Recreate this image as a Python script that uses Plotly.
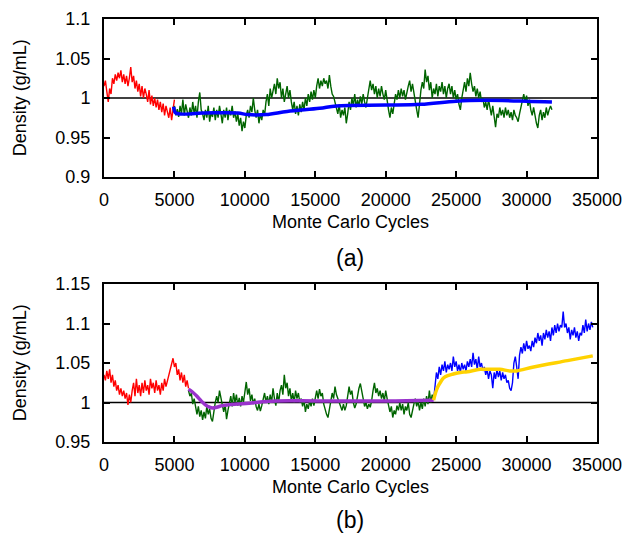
import numpy as np
import plotly.graph_objects as go

STEP = 100

# ---------------- (a) ----------------
a_red_start = 0
a_red = [1.015, 1.022, 1.008, 0.995, 1.012, 1.005, 1.025, 1.018, 1.030, 1.022,
         1.032, 1.025, 1.035, 1.020, 1.030, 1.018, 1.028, 1.015, 1.025, 1.039,
         1.020, 1.028, 1.012, 1.022, 1.008, 1.018, 1.002, 1.015, 1.000, 1.012,
         1.005, 0.995, 1.010, 0.992, 1.003, 0.990, 1.000, 0.988, 0.998, 0.985,
         0.995, 0.982, 0.993, 0.978, 0.990, 0.980, 0.975, 0.988, 0.972, 0.985, 0.998]

a_green_start = 5000
a_green = [0.990, 0.978, 0.986, 0.976, 0.990, 0.980, 0.998, 0.978, 0.992, 0.982,
           0.975, 0.988, 0.978, 0.995, 0.980, 0.990, 0.975, 0.995, 1.007, 0.985,
           0.980, 0.972, 0.985, 0.975, 0.990, 0.970, 0.982, 0.976, 0.988, 0.972,
           0.985, 0.975, 0.990, 0.980, 0.968, 0.985, 0.975, 0.988, 0.972, 0.985,
           0.978, 0.990, 0.975, 0.983, 0.970, 0.980, 0.965, 0.975, 0.958, 0.970,
           0.962, 0.978, 0.985, 0.975, 0.990, 0.982, 1.000, 0.985, 0.975, 0.985,
           0.968, 0.980, 0.972, 0.985, 0.978, 0.995, 1.005, 0.990, 1.012, 1.000,
           1.010, 1.018, 1.005, 1.025, 1.012, 1.020, 1.000, 1.012, 0.995, 1.008,
           1.015, 1.000, 1.010, 0.995, 0.985, 0.995, 0.980, 0.990, 0.978, 0.992,
           0.982, 0.995, 0.985, 1.000, 0.990, 1.005, 0.995, 1.008, 0.998, 1.010,
           1.000, 1.015, 1.025, 1.012, 1.022, 1.015, 1.025, 1.018, 1.022, 1.012,
           1.029, 1.015, 1.005, 1.002, 0.995, 0.990, 0.980, 0.992, 0.975, 0.985,
           0.978, 0.988, 0.968, 0.980, 0.995, 0.985, 1.000, 0.990, 1.005, 0.988,
           0.998, 0.990, 1.002, 0.992, 1.005, 0.995, 0.988, 1.000, 1.010, 1.022,
           1.010, 1.018, 1.005, 1.015, 1.000, 1.012, 1.002, 1.015, 1.005, 0.998,
           1.010, 0.995, 0.985, 0.975, 0.988, 0.980, 0.995, 1.005, 0.998, 1.010,
           1.000, 1.012, 1.002, 1.010, 0.998, 1.008, 1.015, 1.022, 1.008, 1.018,
           1.005, 0.995, 0.985, 0.975, 0.995, 1.010, 1.020, 1.012, 1.036, 1.020,
           1.028, 1.010, 1.020, 1.000, 1.012, 1.005, 1.018, 1.002, 1.015, 1.008,
           1.020, 1.005, 1.015, 1.000, 1.012, 1.018, 1.005, 1.015, 1.000, 1.010,
           0.998, 1.005, 0.992, 0.985, 1.000, 1.010, 1.020, 1.008, 1.025, 1.015,
           1.032, 1.018, 1.008, 1.015, 1.002, 1.012, 1.000, 1.008, 0.995, 1.000,
           0.988, 0.995, 0.985, 0.998, 0.988, 0.978, 0.990, 0.975, 0.963, 0.980,
           0.975, 0.988, 0.978, 0.985, 0.975, 0.988, 0.978, 0.985, 0.975, 0.982,
           0.972, 0.985, 0.978, 0.975, 0.970, 0.980, 0.990, 0.998, 1.005, 0.995,
           1.003, 0.990, 0.998, 0.985, 0.978, 0.988, 0.975, 0.968, 0.962, 0.978,
           0.985, 0.972, 0.982, 0.975, 0.988, 0.978, 0.985, 0.990, 0.985]

a_fit_x = [4950, 5100, 7000, 9500, 10200, 11500, 13000, 15300, 16500, 20000, 22500, 25000, 27000, 30000, 31800]
a_fit_y = [0.989, 0.981, 0.981, 0.981, 0.979, 0.979, 0.983, 0.987, 0.990, 0.991, 0.992, 0.996, 0.997, 0.996, 0.995]

# ---------------- (b) ----------------
b_red_start = 0
b_red = [1.035, 1.028, 1.040, 1.030, 1.042, 1.025, 1.035, 1.020, 1.028, 1.015,
         1.022, 1.010, 1.018, 1.008, 1.015, 1.005, 1.012, 0.997, 1.010, 1.000,
         1.015, 1.025, 1.008, 1.030, 1.012, 1.022, 1.008, 1.025, 1.012, 1.028,
         1.015, 1.022, 1.010, 1.030, 1.018, 1.025, 1.012, 1.028, 1.015, 1.022,
         1.010, 1.025, 1.015, 1.030, 1.020, 1.028, 1.035, 1.042, 1.050, 1.056,
         1.045, 1.050, 1.035, 1.042, 1.028, 1.038, 1.025, 1.035, 1.020, 1.028, 1.018]

b_green_start = 6000
b_green = [1.015, 1.008, 1.012, 0.998, 1.005, 0.992, 0.985, 0.995, 0.982, 0.990,
           0.978, 0.988, 0.980, 0.995, 0.985, 0.992, 0.980, 0.976, 0.990, 1.000,
           1.008, 1.000, 1.015, 1.005, 0.995, 0.988, 0.998, 0.979, 0.990, 0.998,
           1.008, 0.995, 1.012, 1.000, 1.010, 0.996, 1.006, 0.995, 1.008, 1.000,
           1.015, 1.026, 1.010, 1.018, 1.002, 1.010, 0.998, 1.005, 0.995, 0.990,
           0.998, 0.989, 0.996, 1.005, 1.012, 1.000, 1.008, 0.998, 1.010, 1.000,
           1.018, 1.005, 0.996, 1.012, 1.000, 1.015, 1.022, 1.010, 1.035, 1.018,
           1.025, 1.008, 1.018, 1.002, 1.012, 1.000, 1.015, 1.005, 1.012, 1.000,
           1.005, 0.995, 1.003, 0.988, 0.998, 0.992, 1.002, 0.995, 1.005, 0.996,
           1.008, 1.015, 1.005, 1.017, 1.008, 1.012, 0.998, 0.990, 0.985, 0.981,
           0.992, 1.000, 1.012, 1.005, 1.020, 1.010, 1.006, 1.000, 0.995, 0.990,
           0.998, 0.990, 0.996, 1.008, 1.020, 1.010, 1.015, 1.000, 0.993, 0.998,
           1.010, 1.018, 1.024, 1.012, 1.005, 0.995, 1.000, 0.992, 0.998, 0.994,
           1.002, 1.015, 1.025, 1.012, 1.018, 1.008, 1.015, 1.005, 1.012, 1.002,
           1.015, 1.005, 0.995, 0.988, 0.995, 0.981, 0.990, 0.985, 0.996, 0.990,
           1.000, 0.990, 0.998, 0.985, 0.995, 0.990, 1.000, 0.985, 0.981, 0.992,
           0.998, 1.005, 0.995, 1.002, 0.990, 1.000, 0.992, 1.005, 0.995, 1.008,
           0.998, 1.015, 1.000, 1.010, 1.003]

b_blue_start = 23400
b_blue = [1.003, 1.025, 1.038, 1.030, 1.045, 1.035, 1.048, 1.040, 1.052, 1.038,
          1.048, 1.042, 1.050, 1.040, 1.058, 1.045, 1.052, 1.040, 1.048, 1.038,
          1.050, 1.042, 1.048, 1.040, 1.052, 1.045, 1.055, 1.045, 1.063, 1.048,
          1.055, 1.042, 1.058, 1.045, 1.050, 1.040, 1.045, 1.035, 1.042, 1.030,
          1.040, 1.035, 1.018, 1.038, 1.030, 1.042, 1.032, 1.040, 1.028, 1.038,
          1.030, 1.035, 1.025, 1.028, 1.018, 1.015, 1.025, 1.050, 1.058, 1.045,
          1.030, 1.060, 1.070, 1.062, 1.075, 1.065, 1.078, 1.068, 1.072, 1.065,
          1.078, 1.070, 1.082, 1.075, 1.088, 1.078, 1.085, 1.072, 1.088, 1.080,
          1.092, 1.082, 1.090, 1.078, 1.095, 1.085, 1.098, 1.088, 1.100, 1.090,
          1.098, 1.095, 1.115, 1.095, 1.100, 1.088, 1.095, 1.080, 1.092, 1.085,
          1.095, 1.082, 1.090, 1.078, 1.088, 1.085, 1.098, 1.088, 1.105, 1.090,
          1.100, 1.092, 1.102, 1.095]

b_purple_x = [6000, 6300, 6600, 6900, 7200, 7500, 7700, 8000, 8400, 8800, 9500, 10300, 11300, 12300, 15100, 20000, 23400]
b_purple_y = [1.017, 1.013, 1.008, 1.002, 0.997, 0.994, 0.993, 0.994, 0.996, 0.997, 0.998, 0.999, 1.001, 1.002, 1.002, 1.002, 1.003]

b_yellow_x = [23400, 23550, 23700, 23900, 24100, 24400, 24800, 25300, 25800, 26700, 27400, 28100, 28800, 29300, 30500, 32900, 34700]
b_yellow_y = [1.003, 1.013, 1.020, 1.026, 1.031, 1.034, 1.036, 1.038, 1.039, 1.042, 1.042, 1.042, 1.040, 1.040, 1.045, 1.053, 1.059]

x_ticks = [0, 5000, 10000, 15000, 20000, 25000, 30000, 35000]
x_labels = ["0", "5000", "10000", "15000", "20000", "25000", "30000", "35000"]
a_y_ticks = [0.9, 0.95, 1.0, 1.05, 1.1]
a_y_labels = ["0.9", "0.95", "1", "1.05", "1.1"]
b_y_ticks = [0.95, 1.0, 1.05, 1.1, 1.15]
b_y_labels = ["0.95", "1", "1.05", "1.1", "1.15"]


def xs(start, vals):
    return start + STEP * np.arange(len(vals))


RED = "rgb(255,0,0)"
GREEN = "rgb(0,100,0)"
BLUE = "rgb(0,0,255)"
PURPLE = "rgb(153,51,204)"
GOLD = "rgb(255,210,0)"
FONT = "Liberation Sans, Arial, sans-serif"

fig = go.Figure()
thin = 1.4
fig.add_trace(go.Scatter(x=xs(a_red_start, a_red), y=a_red, mode="lines",
                         line=dict(color=RED, width=thin), xaxis="x", yaxis="y"))
fig.add_trace(go.Scatter(x=xs(a_green_start, a_green), y=a_green, mode="lines",
                         line=dict(color=GREEN, width=thin), xaxis="x", yaxis="y"))
fig.add_trace(go.Scatter(x=a_fit_x, y=a_fit_y, mode="lines", line_shape="spline",
                         line=dict(color=BLUE, width=3.5), xaxis="x", yaxis="y"))

fig.add_trace(go.Scatter(x=xs(b_red_start, b_red), y=b_red, mode="lines",
                         line=dict(color=RED, width=thin), xaxis="x2", yaxis="y2"))
fig.add_trace(go.Scatter(x=xs(b_green_start, b_green), y=b_green, mode="lines",
                         line=dict(color=GREEN, width=thin), xaxis="x2", yaxis="y2"))
fig.add_trace(go.Scatter(x=xs(b_blue_start, b_blue), y=b_blue, mode="lines",
                         line=dict(color=BLUE, width=thin), xaxis="x2", yaxis="y2"))
fig.add_trace(go.Scatter(x=b_purple_x, y=b_purple_y, mode="lines", line_shape="spline",
                         line=dict(color=PURPLE, width=3.5), xaxis="x2", yaxis="y2"))
fig.add_trace(go.Scatter(x=b_yellow_x, y=b_yellow_y, mode="lines", line_shape="spline",
                         line=dict(color=GOLD, width=3.5), xaxis="x2", yaxis="y2"))

axis_common = dict(showline=True, linecolor="black", linewidth=2, mirror="ticks",
                   ticks="inside", ticklen=6, tickwidth=1.5, tickcolor="black",
                   showgrid=False, zeroline=False, automargin=False,
                   tickfont=dict(family=FONT, size=18, color="black"))

top_dom = [1 - 158 / 423, 1]
bot_dom = [0, 158 / 423]

fig.update_layout(
    width=626, height=534,
    margin=dict(l=104, r=29, t=19, b=92, autoexpand=False),
    paper_bgcolor="white", plot_bgcolor="white",
    showlegend=False,
    xaxis=dict(domain=[0, 1], anchor="y", range=[0, 35000], tickvals=x_ticks,
               ticktext=x_labels, ticklabelstandoff=5, **axis_common),
    yaxis=dict(domain=top_dom, anchor="x", range=[0.9, 1.1], tickvals=a_y_ticks,
               ticktext=a_y_labels, ticklabelstandoff=8, **axis_common),
    xaxis2=dict(domain=[0, 1], anchor="y2", range=[0, 35000], tickvals=x_ticks,
                ticktext=x_labels, ticklabelstandoff=5, **axis_common),
    yaxis2=dict(domain=bot_dom, anchor="x2", range=[0.95, 1.15], tickvals=b_y_ticks,
                ticktext=b_y_labels, ticklabelstandoff=8, **axis_common),
    shapes=[
        dict(type="line", xref="x domain", yref="y", x0=0, x1=1, y0=1.0, y1=1.0,
             line=dict(color="black", width=1.3), layer="below"),
        dict(type="line", xref="x2 domain", yref="y2", x0=0, x1=1, y0=1.0, y1=1.0,
             line=dict(color="black", width=1.3), layer="below"),
    ],
)

ann_font = dict(family=FONT, size=18, color="black")
anns = [
    dict(text="Density (g/mL)", x=-0.170, y=(442 - 98) / 423, textangle=-90),
    dict(text="Density (g/mL)", x=-0.170, y=(442 - 363) / 423, textangle=-90),
    dict(text="Monte Carlo Cycles", x=0.499, y=(442 - 222) / 423),
    dict(text="Monte Carlo Cycles", x=0.499, y=(442 - 487) / 423),
]
for a in anns:
    fig.add_annotation(xref="paper", yref="paper", showarrow=False,
                       xanchor="center", yanchor="middle", font=ann_font, **a)
for txt, yy in [("(a)", (442 - 258) / 423), ("(b)", (442 - 520) / 423)]:
    fig.add_annotation(xref="paper", yref="paper", showarrow=False, text=txt,
                       x=0.499, y=yy, xanchor="center", yanchor="middle",
                       font=dict(family=FONT, size=23, color="black"))

fig.write_html("out.html")
